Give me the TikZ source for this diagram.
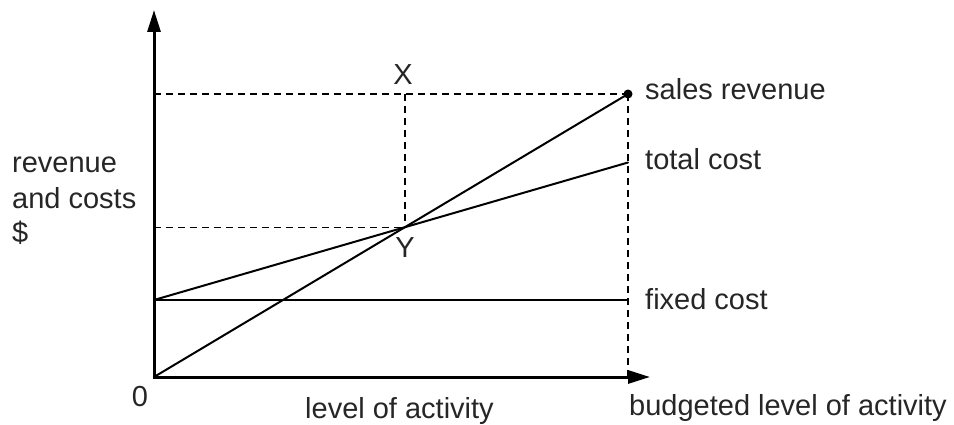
\documentclass[tikz,border=0pt]{standalone}
\usepackage{fontspec}
\setmainfont{Liberation Sans}
\usetikzlibrary{arrows.meta}
\begin{document}
\begin{tikzpicture}[x=1pt,y=-1pt,
  axis/.style={line width=3pt,-{Triangle[length=22pt,width=13pt]}},
  graphline/.style={line width=2pt,line cap=round},
  guide/.style={line width=1.4pt,dash pattern=on 7pt off 5pt},
  lbl/.style={inner sep=0pt,font=\fontsize{29}{35}\selectfont,text=black!85}]
\useasboundingbox (0,0) rectangle (954,425);
% key points
\coordinate (O) at (154,377);
\coordinate (ytop) at (154,10);
\coordinate (xend) at (650,377);
\coordinate (F) at (154,300);
\coordinate (S) at (628,94);
\coordinate (T) at (628,162.5);
\coordinate (Fe) at (628,300);
\coordinate (B) at (628,377);
\coordinate (SL) at (154,94);
\coordinate (I) at (intersection of O--S and F--T);
\coordinate (IL) at (O |- I);
\coordinate (IT) at (I |- S);
% dashed guides
\draw[guide] (SL) -- (S);
\draw[guide] (IT) -- (I);
\draw[guide] (IL) -- (I);
\draw[guide] (S) -- (B);
% lines
\draw[graphline] (F) -- (Fe);
\draw[graphline] (F) -- (T);
\draw[graphline] (O) -- (S);
\fill (S) circle (4.5pt);
% axes
\draw[axis] ([yshift=1.5pt]O) -- (ytop);
\draw[axis] ([xshift=-1.5pt]O) -- (xend);
% labels
\node[lbl,anchor=base west] (lsales) at (645,100) {sales revenue};
\node[lbl,anchor=base west] (ltotal) at (645,170) {total cost};
\node[lbl,anchor=base west] (lfixed) at (645,309) {fixed cost};
\node[lbl,anchor=base] (lX) at (403,85) {X};
\node[lbl,anchor=base] (lY) at (405,258) {Y};
\node[lbl,anchor=base west] (lrev) at (12,173) {revenue};
\node[lbl,anchor=base west] (land) at (12,208) {and costs};
\node[lbl,anchor=base west] (ldol) at (12,243) {\$};
\node[lbl,anchor=base] (lzero) at (140,406) {0};
\node[lbl,anchor=base west] (lact) at (305,418) {level of activity};
\node[lbl,anchor=base west] (lbud) at (629,415) {budgeted level of activity};
\end{tikzpicture}
\end{document}
